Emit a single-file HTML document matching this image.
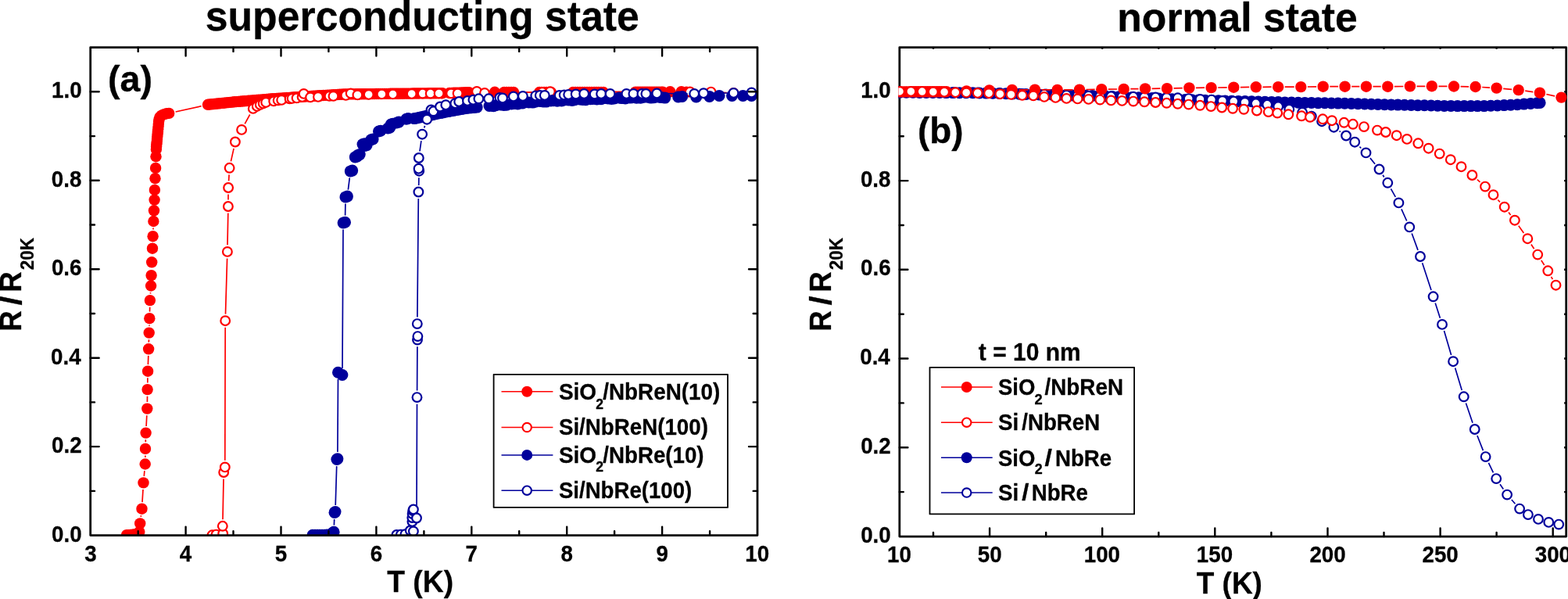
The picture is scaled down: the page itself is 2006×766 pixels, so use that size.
<!DOCTYPE html>
<html lang="en"><head><meta charset="utf-8"><title>R/R20K vs T: superconducting and normal state</title>
<style>html,body{margin:0;padding:0;background:#fff;}body{width:2006px;height:766px;overflow:hidden;}svg{display:block;}</style>
</head><body>
<svg width="2006" height="766" viewBox="0 0 2006 766" font-family="'Liberation Sans', Arial, Helvetica, sans-serif" font-weight="bold" fill="#000" stroke-linejoin="round">
<rect width="2006" height="766" fill="#fff"/>
<defs>
<clipPath id="ca"><rect x="115.7" y="60.6" width="853.3" height="624.0"/></clipPath>
<clipPath id="cb"><rect x="1149.4" y="60.5" width="855.3" height="625.5"/></clipPath>
</defs>
<g clip-path="url(#ca)">
<path d="M180.2 660.9L180.5 659.2M182.0 642.1L183.0 626.0M184.3 608.8L184.9 602.1M185.8 584.9L185.9 582.5M186.3 565.3L186.3 562.2M187.1 545.0L187.8 531.2M188.4 514.0L188.5 506.7M188.8 489.5L188.9 483.3M189.4 466.1L189.8 454.9M190.3 437.7L190.5 434.2M191.0 417.0L191.0 415.8M191.5 398.6L191.7 392.7M192.5 375.5L192.5 374.1M196.0 293.6L196.0 291.6M224.6 143.0L257.6 135.7M608.6 118.1L624.4 117.9M665.6 117.9L681.4 118.0M713.6 118.0L724.4 118.0M780.6 117.9L804.4 117.7" stroke="#ff0000" stroke-width="1.7" fill="none"/>
<g fill="#ff0000">
<circle cx="162.0" cy="684.2" r="7.2"/>
<circle cx="164.5" cy="684.1" r="7.2"/>
<circle cx="167.0" cy="684.0" r="7.2"/>
<circle cx="169.5" cy="683.8" r="7.2"/>
<circle cx="172.0" cy="683.5" r="7.2"/>
<circle cx="174.5" cy="683.0" r="7.2"/>
<circle cx="176.5" cy="682.0" r="7.2"/>
<circle cx="178.3" cy="680.0" r="7.2"/>
<circle cx="179.2" cy="669.4" r="7.2"/>
<circle cx="181.5" cy="650.7" r="7.2"/>
<circle cx="183.5" cy="617.4" r="7.2"/>
<circle cx="185.7" cy="593.5" r="7.2"/>
<circle cx="186.0" cy="573.9" r="7.2"/>
<circle cx="186.6" cy="553.6" r="7.2"/>
<circle cx="188.3" cy="522.6" r="7.2"/>
<circle cx="188.6" cy="498.1" r="7.2"/>
<circle cx="189.1" cy="474.7" r="7.2"/>
<circle cx="190.1" cy="446.3" r="7.2"/>
<circle cx="190.7" cy="425.6" r="7.2"/>
<circle cx="191.3" cy="407.2" r="7.2"/>
<circle cx="191.9" cy="384.1" r="7.2"/>
<circle cx="193.1" cy="365.5" r="7.2"/>
<circle cx="193.6" cy="352.1" r="7.2"/>
<circle cx="194.2" cy="335.3" r="7.2"/>
<circle cx="195.0" cy="317.7" r="7.2"/>
<circle cx="195.6" cy="302.2" r="7.2"/>
<circle cx="196.4" cy="283.0" r="7.2"/>
<circle cx="197.0" cy="269.3" r="7.2"/>
<circle cx="197.6" cy="255.6" r="7.2"/>
<circle cx="197.9" cy="242.9" r="7.2"/>
<circle cx="198.5" cy="228.2" r="7.2"/>
<circle cx="199.1" cy="214.9" r="7.2"/>
<circle cx="199.5" cy="200.2" r="7.2"/>
<circle cx="199.9" cy="191.0" r="7.2"/>
<circle cx="200.1" cy="187.5" r="7.2"/>
<circle cx="200.4" cy="184.3" r="7.2"/>
<circle cx="200.7" cy="181.1" r="7.2"/>
<circle cx="201.0" cy="177.9" r="7.2"/>
<circle cx="201.3" cy="174.8" r="7.2"/>
<circle cx="201.6" cy="171.6" r="7.2"/>
<circle cx="201.9" cy="168.4" r="7.2"/>
<circle cx="202.2" cy="165.2" r="7.2"/>
<circle cx="202.5" cy="162.0" r="7.2"/>
<circle cx="202.8" cy="158.8" r="7.2"/>
<circle cx="203.1" cy="155.6" r="7.2"/>
<circle cx="203.6" cy="152.5" r="7.2"/>
<circle cx="204.6" cy="149.5" r="7.2"/>
<circle cx="207.1" cy="147.4" r="7.2"/>
<circle cx="210.0" cy="146.1" r="7.2"/>
<circle cx="213.0" cy="145.3" r="7.2"/>
<circle cx="216.2" cy="144.9" r="7.2"/>
<circle cx="266.0" cy="133.8" r="7.2"/>
<circle cx="268.6" cy="133.5" r="7.2"/>
<circle cx="271.2" cy="133.3" r="7.2"/>
<circle cx="273.8" cy="133.0" r="7.2"/>
<circle cx="276.3" cy="132.7" r="7.2"/>
<circle cx="278.9" cy="132.5" r="7.2"/>
<circle cx="281.5" cy="132.2" r="7.2"/>
<circle cx="284.1" cy="131.9" r="7.2"/>
<circle cx="286.7" cy="131.7" r="7.2"/>
<circle cx="289.3" cy="131.4" r="7.2"/>
<circle cx="291.9" cy="131.1" r="7.2"/>
<circle cx="294.4" cy="130.9" r="7.2"/>
<circle cx="297.0" cy="130.6" r="7.2"/>
<circle cx="299.6" cy="130.3" r="7.2"/>
<circle cx="302.2" cy="130.1" r="7.2"/>
<circle cx="304.8" cy="129.9" r="7.2"/>
<circle cx="307.4" cy="129.7" r="7.2"/>
<circle cx="310.0" cy="129.5" r="7.2"/>
<circle cx="312.6" cy="129.3" r="7.2"/>
<circle cx="315.2" cy="129.1" r="7.2"/>
<circle cx="317.8" cy="128.8" r="7.2"/>
<circle cx="320.4" cy="128.6" r="7.2"/>
<circle cx="322.9" cy="128.4" r="7.2"/>
<circle cx="325.5" cy="128.2" r="7.2"/>
<circle cx="328.1" cy="128.0" r="7.2"/>
<circle cx="330.7" cy="127.8" r="7.2"/>
<circle cx="333.3" cy="127.6" r="7.2"/>
<circle cx="335.9" cy="127.4" r="7.2"/>
<circle cx="338.5" cy="127.1" r="7.2"/>
<circle cx="341.1" cy="126.9" r="7.2"/>
<circle cx="343.7" cy="126.7" r="7.2"/>
<circle cx="346.3" cy="126.5" r="7.2"/>
<circle cx="348.9" cy="126.3" r="7.2"/>
<circle cx="351.4" cy="126.1" r="7.2"/>
<circle cx="354.0" cy="125.9" r="7.2"/>
<circle cx="356.6" cy="125.7" r="7.2"/>
<circle cx="359.2" cy="125.6" r="7.2"/>
<circle cx="361.8" cy="125.4" r="7.2"/>
<circle cx="364.4" cy="125.2" r="7.2"/>
<circle cx="367.0" cy="125.0" r="7.2"/>
<circle cx="369.6" cy="124.9" r="7.2"/>
<circle cx="372.2" cy="124.7" r="7.2"/>
<circle cx="374.8" cy="124.5" r="7.2"/>
<circle cx="377.4" cy="124.3" r="7.2"/>
<circle cx="380.0" cy="124.2" r="7.2"/>
<circle cx="382.6" cy="124.0" r="7.2"/>
<circle cx="385.2" cy="123.8" r="7.2"/>
<circle cx="387.8" cy="123.6" r="7.2"/>
<circle cx="390.4" cy="123.5" r="7.2"/>
<circle cx="393.0" cy="123.3" r="7.2"/>
<circle cx="395.5" cy="123.1" r="7.2"/>
<circle cx="398.1" cy="122.9" r="7.2"/>
<circle cx="400.7" cy="122.8" r="7.2"/>
<circle cx="403.3" cy="122.6" r="7.2"/>
<circle cx="405.9" cy="122.5" r="7.2"/>
<circle cx="408.5" cy="122.3" r="7.2"/>
<circle cx="411.1" cy="122.2" r="7.2"/>
<circle cx="413.7" cy="122.0" r="7.2"/>
<circle cx="416.3" cy="121.9" r="7.2"/>
<circle cx="418.9" cy="121.7" r="7.2"/>
<circle cx="421.5" cy="121.6" r="7.2"/>
<circle cx="424.1" cy="121.4" r="7.2"/>
<circle cx="426.7" cy="121.3" r="7.2"/>
<circle cx="429.3" cy="121.1" r="7.2"/>
<circle cx="431.9" cy="121.0" r="7.2"/>
<circle cx="434.5" cy="120.8" r="7.2"/>
<circle cx="437.1" cy="120.7" r="7.2"/>
<circle cx="439.7" cy="120.5" r="7.2"/>
<circle cx="442.3" cy="120.5" r="7.2"/>
<circle cx="444.9" cy="120.4" r="7.2"/>
<circle cx="447.5" cy="120.4" r="7.2"/>
<circle cx="450.1" cy="120.4" r="7.2"/>
<circle cx="452.7" cy="120.4" r="7.2"/>
<circle cx="455.3" cy="120.3" r="7.2"/>
<circle cx="457.9" cy="120.3" r="7.2"/>
<circle cx="460.5" cy="120.3" r="7.2"/>
<circle cx="463.1" cy="120.2" r="7.2"/>
<circle cx="465.7" cy="120.2" r="7.2"/>
<circle cx="468.3" cy="120.2" r="7.2"/>
<circle cx="470.9" cy="120.2" r="7.2"/>
<circle cx="473.5" cy="120.1" r="7.2"/>
<circle cx="476.1" cy="120.1" r="7.2"/>
<circle cx="478.7" cy="120.1" r="7.2"/>
<circle cx="481.3" cy="120.0" r="7.2"/>
<circle cx="483.9" cy="120.0" r="7.2"/>
<circle cx="486.5" cy="120.0" r="7.2"/>
<circle cx="489.1" cy="119.9" r="7.2"/>
<circle cx="491.7" cy="119.9" r="7.2"/>
<circle cx="494.3" cy="119.9" r="7.2"/>
<circle cx="496.9" cy="119.9" r="7.2"/>
<circle cx="499.5" cy="119.8" r="7.2"/>
<circle cx="502.1" cy="119.8" r="7.2"/>
<circle cx="504.7" cy="119.8" r="7.2"/>
<circle cx="507.3" cy="119.7" r="7.2"/>
<circle cx="509.9" cy="119.7" r="7.2"/>
<circle cx="512.5" cy="119.7" r="7.2"/>
<circle cx="515.1" cy="119.7" r="7.2"/>
<circle cx="517.7" cy="119.6" r="7.2"/>
<circle cx="520.3" cy="119.6" r="7.2"/>
<circle cx="522.9" cy="119.6" r="7.2"/>
<circle cx="525.5" cy="119.6" r="7.2"/>
<circle cx="528.1" cy="119.5" r="7.2"/>
<circle cx="530.7" cy="119.5" r="7.2"/>
<circle cx="533.3" cy="119.5" r="7.2"/>
<circle cx="535.9" cy="119.5" r="7.2"/>
<circle cx="538.5" cy="119.4" r="7.2"/>
<circle cx="541.1" cy="119.4" r="7.2"/>
<circle cx="543.7" cy="119.4" r="7.2"/>
<circle cx="546.3" cy="119.4" r="7.2"/>
<circle cx="548.9" cy="119.3" r="7.2"/>
<circle cx="551.5" cy="119.3" r="7.2"/>
<circle cx="554.1" cy="119.3" r="7.2"/>
<circle cx="556.7" cy="119.3" r="7.2"/>
<circle cx="559.3" cy="119.3" r="7.2"/>
<circle cx="561.9" cy="119.2" r="7.2"/>
<circle cx="564.5" cy="119.2" r="7.2"/>
<circle cx="566.0" cy="119.2" r="7.2"/>
<circle cx="575.0" cy="119.0" r="7.2"/>
<circle cx="577.6" cy="118.9" r="7.2"/>
<circle cx="580.2" cy="118.8" r="7.2"/>
<circle cx="582.8" cy="118.8" r="7.2"/>
<circle cx="585.4" cy="118.7" r="7.2"/>
<circle cx="588.0" cy="118.6" r="7.2"/>
<circle cx="590.6" cy="118.5" r="7.2"/>
<circle cx="593.2" cy="118.4" r="7.2"/>
<circle cx="595.8" cy="118.3" r="7.2"/>
<circle cx="598.4" cy="118.3" r="7.2"/>
<circle cx="600.0" cy="118.2" r="7.2"/>
<circle cx="633.0" cy="117.8" r="7.2"/>
<circle cx="645.0" cy="117.9" r="7.2"/>
<circle cx="648.0" cy="117.9" r="7.2"/>
<circle cx="651.0" cy="117.9" r="7.2"/>
<circle cx="654.0" cy="117.9" r="7.2"/>
<circle cx="657.0" cy="117.9" r="7.2"/>
<circle cx="690.0" cy="118.0" r="7.2"/>
<circle cx="693.0" cy="118.0" r="7.2"/>
<circle cx="696.0" cy="118.0" r="7.2"/>
<circle cx="699.0" cy="118.0" r="7.2"/>
<circle cx="702.0" cy="118.0" r="7.2"/>
<circle cx="705.0" cy="118.0" r="7.2"/>
<circle cx="733.0" cy="118.0" r="7.2"/>
<circle cx="736.0" cy="118.0" r="7.2"/>
<circle cx="739.0" cy="118.0" r="7.2"/>
<circle cx="742.0" cy="118.0" r="7.2"/>
<circle cx="745.0" cy="118.0" r="7.2"/>
<circle cx="748.0" cy="118.0" r="7.2"/>
<circle cx="751.0" cy="118.0" r="7.2"/>
<circle cx="754.0" cy="118.0" r="7.2"/>
<circle cx="757.0" cy="118.0" r="7.2"/>
<circle cx="760.0" cy="118.0" r="7.2"/>
<circle cx="763.0" cy="118.0" r="7.2"/>
<circle cx="766.0" cy="118.0" r="7.2"/>
<circle cx="769.0" cy="118.0" r="7.2"/>
<circle cx="772.0" cy="118.0" r="7.2"/>
<circle cx="813.0" cy="117.6" r="7.2"/>
<circle cx="816.0" cy="117.6" r="7.2"/>
<circle cx="819.0" cy="117.6" r="7.2"/>
<circle cx="822.0" cy="117.6" r="7.2"/>
<circle cx="825.0" cy="117.6" r="7.2"/>
<circle cx="828.0" cy="117.6" r="7.2"/>
<circle cx="831.0" cy="117.6" r="7.2"/>
<circle cx="834.0" cy="117.6" r="7.2"/>
<circle cx="837.0" cy="117.6" r="7.2"/>
<circle cx="840.0" cy="117.6" r="7.2"/>
<circle cx="843.0" cy="117.6" r="7.2"/>
<circle cx="846.0" cy="117.6" r="7.2"/>
<circle cx="848.0" cy="117.6" r="7.2"/>
<circle cx="857.3" cy="117.3" r="7.2"/>
<circle cx="871.7" cy="117.3" r="7.2"/>
<circle cx="878.2" cy="117.6" r="7.2"/>
</g>
<path d="M285.0 664.2L286.0 612.6M287.8 588.8L288.2 418.8M288.5 401.6L290.6 330.5M291.0 313.3L291.8 272.6M292.0 255.4L292.0 248.6M292.6 231.4L293.1 223.4M295.4 206.4L299.1 189.9M313.2 158.3L319.7 146.5M511.2 120.2L518.1 120.1M594.2 118.5L601.4 117.8M628.6 118.8L685.2 118.0M712.4 117.2L874.1 117.5M891.3 117.5L901.0 117.6M918.2 118.0L929.9 118.5" stroke="#ff0000" stroke-width="1.7" fill="none"/>
<g fill="#fff" stroke="#ff0000" stroke-width="2.2">
<circle cx="271.5" cy="684.3" r="5.85"/>
<circle cx="276.5" cy="683.6" r="5.85"/>
<circle cx="285.2" cy="682.4" r="5.85"/>
<circle cx="284.8" cy="672.8" r="5.85"/>
<circle cx="286.2" cy="604.0" r="5.85"/>
<circle cx="287.8" cy="597.4" r="5.85"/>
<circle cx="288.2" cy="410.2" r="5.85"/>
<circle cx="290.9" cy="321.9" r="5.85"/>
<circle cx="291.9" cy="264.0" r="5.85"/>
<circle cx="292.1" cy="240.0" r="5.85"/>
<circle cx="293.6" cy="214.8" r="5.85"/>
<circle cx="300.9" cy="181.5" r="5.85"/>
<circle cx="309.1" cy="165.9" r="5.85"/>
<circle cx="323.8" cy="138.9" r="5.85"/>
<circle cx="328.8" cy="135.9" r="5.85"/>
<circle cx="332.8" cy="133.9" r="5.85"/>
<circle cx="336.7" cy="132.4" r="5.85"/>
<circle cx="340.2" cy="130.9" r="5.85"/>
<circle cx="350.2" cy="129.4" r="5.85"/>
<circle cx="355.7" cy="128.4" r="5.85"/>
<circle cx="360.2" cy="127.9" r="5.85"/>
<circle cx="370.6" cy="126.4" r="5.85"/>
<circle cx="373.6" cy="125.9" r="5.85"/>
<circle cx="379.6" cy="125.4" r="5.85"/>
<circle cx="386.6" cy="123.9" r="5.85"/>
<circle cx="388.6" cy="119.9" r="5.85"/>
<circle cx="397.1" cy="124.4" r="5.85"/>
<circle cx="407.0" cy="123.9" r="5.85"/>
<circle cx="421.5" cy="122.9" r="5.85"/>
<circle cx="426.5" cy="122.9" r="5.85"/>
<circle cx="442.4" cy="121.9" r="5.85"/>
<circle cx="448.7" cy="119.4" r="5.85"/>
<circle cx="457.4" cy="121.4" r="5.85"/>
<circle cx="471.7" cy="120.9" r="5.85"/>
<circle cx="488.4" cy="120.4" r="5.85"/>
<circle cx="502.6" cy="120.4" r="5.85"/>
<circle cx="526.7" cy="119.9" r="5.85"/>
<circle cx="540.7" cy="119.6" r="5.85"/>
<circle cx="550.7" cy="119.6" r="5.85"/>
<circle cx="561.6" cy="119.4" r="5.85"/>
<circle cx="577.1" cy="119.4" r="5.85"/>
<circle cx="585.6" cy="119.4" r="5.85"/>
<circle cx="610.0" cy="116.9" r="5.85"/>
<circle cx="620.0" cy="118.9" r="5.85"/>
<circle cx="693.8" cy="117.9" r="5.85"/>
<circle cx="703.8" cy="117.2" r="5.85"/>
<circle cx="882.7" cy="117.5" r="5.85"/>
<circle cx="909.6" cy="117.6" r="5.85"/>
<circle cx="938.5" cy="118.9" r="5.85"/>
</g>
<path d="M427.4 671.6L427.7 664.0M429.2 646.0L430.7 596.1M431.9 578.1L432.5 484.8M438.0 470.9L439.0 293.6M441.6 275.6L441.9 260.5M445.4 242.6L447.3 227.4M881.3 123.6L882.1 123.7" stroke="#00009b" stroke-width="1.7" fill="none"/>
<g fill="#00009b">
<circle cx="400.0" cy="684.3" r="7.5"/>
<circle cx="403.0" cy="684.3" r="7.5"/>
<circle cx="406.0" cy="684.2" r="7.5"/>
<circle cx="409.0" cy="684.2" r="7.5"/>
<circle cx="412.0" cy="684.2" r="7.5"/>
<circle cx="415.0" cy="684.2" r="7.5"/>
<circle cx="418.0" cy="684.1" r="7.5"/>
<circle cx="421.0" cy="684.1" r="7.5"/>
<circle cx="423.5" cy="683.4" r="7.5"/>
<circle cx="424.5" cy="682.6" r="7.5"/>
<circle cx="426.1" cy="681.0" r="7.5"/>
<circle cx="427.1" cy="680.2" r="7.5"/>
<circle cx="428.0" cy="655.4" r="7.5"/>
<circle cx="429.0" cy="654.6" r="7.5"/>
<circle cx="430.9" cy="587.5" r="7.5"/>
<circle cx="431.9" cy="586.7" r="7.5"/>
<circle cx="432.5" cy="476.2" r="7.5"/>
<circle cx="437.9" cy="479.5" r="7.5"/>
<circle cx="439.1" cy="285.0" r="7.5"/>
<circle cx="441.5" cy="284.2" r="7.5"/>
<circle cx="442.0" cy="251.9" r="7.5"/>
<circle cx="444.4" cy="251.1" r="7.5"/>
<circle cx="448.3" cy="218.9" r="7.5"/>
<circle cx="450.7" cy="218.1" r="7.5"/>
<circle cx="454.3" cy="200.9" r="7.5"/>
<circle cx="456.7" cy="200.1" r="7.5"/>
<circle cx="457.8" cy="198.4" r="7.5"/>
<circle cx="460.2" cy="197.6" r="7.5"/>
<circle cx="464.0" cy="184.6" r="7.5"/>
<circle cx="466.4" cy="183.8" r="7.5"/>
<circle cx="466.8" cy="186.4" r="7.5"/>
<circle cx="469.2" cy="185.6" r="7.5"/>
<circle cx="474.7" cy="178.7" r="7.5"/>
<circle cx="477.1" cy="177.9" r="7.5"/>
<circle cx="484.5" cy="168.0" r="7.5"/>
<circle cx="486.9" cy="167.2" r="7.5"/>
<circle cx="496.3" cy="164.0" r="7.5"/>
<circle cx="498.7" cy="163.2" r="7.5"/>
<circle cx="500.2" cy="159.1" r="7.5"/>
<circle cx="502.6" cy="158.3" r="7.5"/>
<circle cx="507.8" cy="156.9" r="7.5"/>
<circle cx="510.2" cy="156.1" r="7.5"/>
<circle cx="519.8" cy="152.3" r="7.5"/>
<circle cx="522.2" cy="151.5" r="7.5"/>
<circle cx="530.0" cy="151.6" r="7.5"/>
<circle cx="533.3" cy="150.9" r="7.5"/>
<circle cx="536.7" cy="150.2" r="7.5"/>
<circle cx="540.0" cy="149.5" r="7.5"/>
<circle cx="543.3" cy="148.8" r="7.5"/>
<circle cx="546.6" cy="148.1" r="7.5"/>
<circle cx="550.0" cy="147.4" r="7.5"/>
<circle cx="553.3" cy="146.7" r="7.5"/>
<circle cx="556.6" cy="146.0" r="7.5"/>
<circle cx="559.9" cy="145.3" r="7.5"/>
<circle cx="563.3" cy="144.6" r="7.5"/>
<circle cx="566.6" cy="144.0" r="7.5"/>
<circle cx="569.9" cy="143.3" r="7.5"/>
<circle cx="573.3" cy="142.6" r="7.5"/>
<circle cx="576.6" cy="142.0" r="7.5"/>
<circle cx="580.0" cy="141.4" r="7.5"/>
<circle cx="583.3" cy="140.8" r="7.5"/>
<circle cx="586.7" cy="140.2" r="7.5"/>
<circle cx="590.0" cy="139.6" r="7.5"/>
<circle cx="593.3" cy="139.0" r="7.5"/>
<circle cx="596.7" cy="138.4" r="7.5"/>
<circle cx="600.1" cy="138.1" r="7.5"/>
<circle cx="603.5" cy="137.7" r="7.5"/>
<circle cx="606.9" cy="137.4" r="7.5"/>
<circle cx="610.2" cy="137.1" r="7.5"/>
<circle cx="626.0" cy="135.5" r="7.5"/>
<circle cx="631.2" cy="135.7" r="7.5"/>
<circle cx="634.4" cy="134.7" r="7.5"/>
<circle cx="640.2" cy="134.0" r="7.5"/>
<circle cx="644.5" cy="134.5" r="7.5"/>
<circle cx="648.2" cy="134.2" r="7.5"/>
<circle cx="654.3" cy="132.9" r="7.5"/>
<circle cx="657.8" cy="132.5" r="7.5"/>
<circle cx="662.3" cy="132.9" r="7.5"/>
<circle cx="668.0" cy="132.1" r="7.5"/>
<circle cx="671.1" cy="130.9" r="7.5"/>
<circle cx="676.5" cy="130.9" r="7.5"/>
<circle cx="681.5" cy="131.1" r="7.5"/>
<circle cx="684.8" cy="130.3" r="7.5"/>
<circle cx="690.7" cy="129.5" r="7.5"/>
<circle cx="694.8" cy="130.0" r="7.5"/>
<circle cx="698.7" cy="130.1" r="7.5"/>
<circle cx="704.7" cy="129.0" r="7.5"/>
<circle cx="708.1" cy="128.7" r="7.5"/>
<circle cx="712.9" cy="129.3" r="7.5"/>
<circle cx="718.4" cy="128.9" r="7.5"/>
<circle cx="721.6" cy="127.9" r="7.5"/>
<circle cx="727.2" cy="128.0" r="7.5"/>
<circle cx="731.9" cy="128.5" r="7.5"/>
<circle cx="735.3" cy="127.8" r="7.5"/>
<circle cx="741.3" cy="127.0" r="7.5"/>
<circle cx="745.2" cy="127.5" r="7.5"/>
<circle cx="749.4" cy="127.7" r="7.5"/>
<circle cx="755.3" cy="126.8" r="7.5"/>
<circle cx="758.5" cy="126.4" r="7.5"/>
<circle cx="763.6" cy="127.0" r="7.5"/>
<circle cx="768.9" cy="126.8" r="7.5"/>
<circle cx="772.1" cy="125.8" r="7.5"/>
<circle cx="777.9" cy="125.9" r="7.5"/>
<circle cx="782.3" cy="126.5" r="7.5"/>
<circle cx="785.9" cy="125.9" r="7.5"/>
<circle cx="792.0" cy="125.1" r="7.5"/>
<circle cx="795.6" cy="125.6" r="7.5"/>
<circle cx="800.0" cy="126.0" r="7.5"/>
<circle cx="805.8" cy="125.1" r="7.5"/>
<circle cx="809.0" cy="124.7" r="7.5"/>
<circle cx="814.3" cy="125.3" r="7.5"/>
<circle cx="819.4" cy="125.3" r="7.5"/>
<circle cx="822.6" cy="124.4" r="7.5"/>
<circle cx="828.5" cy="124.3" r="7.5"/>
<circle cx="832.8" cy="125.1" r="7.5"/>
<circle cx="836.6" cy="124.8" r="7.5"/>
<circle cx="842.6" cy="124.1" r="7.5"/>
<circle cx="846.1" cy="124.6" r="7.5"/>
<circle cx="850.7" cy="125.1" r="7.5"/>
<circle cx="867.7" cy="123.9" r="7.5"/>
<circle cx="872.7" cy="123.4" r="7.5"/>
<circle cx="890.7" cy="123.9" r="7.5"/>
<circle cx="907.6" cy="123.4" r="7.5"/>
<circle cx="920.1" cy="122.4" r="7.5"/>
<circle cx="936.5" cy="122.4" r="7.5"/>
<circle cx="950.5" cy="122.4" r="7.5"/>
<circle cx="961.5" cy="122.4" r="7.5"/>
</g>
<path d="M533.0 653.9L533.5 516.7M533.6 499.5L533.9 443.2M533.9 405.5L535.3 254.1M535.7 236.9L535.9 227.3M537.0 193.5L538.9 180.2M542.7 163.5L543.6 160.9M705.4 121.9L707.1 121.9M789.2 119.9L792.8 119.9M848.9 119.5L879.6 119.8M908.7 119.1L929.9 119.0M947.1 118.7L952.9 118.6" stroke="#00009b" stroke-width="1.7" fill="none"/>
<g fill="#fff" stroke="#00009b" stroke-width="2.2">
<circle cx="507.4" cy="684.0" r="5.85"/>
<circle cx="512.9" cy="683.6" r="5.85"/>
<circle cx="518.4" cy="683.2" r="5.85"/>
<circle cx="524.8" cy="678.5" r="5.85"/>
<circle cx="528.9" cy="679.4" r="5.85"/>
<circle cx="527.4" cy="667.0" r="5.85"/>
<circle cx="527.3" cy="662.0" r="5.85"/>
<circle cx="527.6" cy="657.0" r="5.85"/>
<circle cx="528.2" cy="653.0" r="5.85"/>
<circle cx="528.9" cy="651.5" r="5.85"/>
<circle cx="533.0" cy="662.5" r="5.85"/>
<circle cx="533.5" cy="508.1" r="5.85"/>
<circle cx="534.0" cy="434.6" r="5.85"/>
<circle cx="534.4" cy="430.1" r="5.85"/>
<circle cx="533.8" cy="414.1" r="5.85"/>
<circle cx="535.4" cy="245.5" r="5.85"/>
<circle cx="536.2" cy="218.7" r="5.85"/>
<circle cx="535.6" cy="215.7" r="5.85"/>
<circle cx="535.8" cy="202.0" r="5.85"/>
<circle cx="540.1" cy="171.7" r="5.85"/>
<circle cx="546.2" cy="152.7" r="5.85"/>
<circle cx="551.5" cy="140.5" r="5.85"/>
<circle cx="554.5" cy="142.3" r="5.85"/>
<circle cx="563.0" cy="136.5" r="5.85"/>
<circle cx="570.3" cy="134.2" r="5.85"/>
<circle cx="582.3" cy="132.2" r="5.85"/>
<circle cx="587.2" cy="130.0" r="5.85"/>
<circle cx="598.0" cy="128.9" r="5.85"/>
<circle cx="605.4" cy="127.7" r="5.85"/>
<circle cx="612.4" cy="126.3" r="5.85"/>
<circle cx="625.2" cy="126.3" r="5.85"/>
<circle cx="639.4" cy="124.9" r="5.85"/>
<circle cx="643.0" cy="125.4" r="5.85"/>
<circle cx="656.9" cy="123.4" r="5.85"/>
<circle cx="668.9" cy="122.9" r="5.85"/>
<circle cx="685.3" cy="122.4" r="5.85"/>
<circle cx="690.8" cy="121.9" r="5.85"/>
<circle cx="696.8" cy="121.9" r="5.85"/>
<circle cx="715.7" cy="121.9" r="5.85"/>
<circle cx="721.7" cy="121.4" r="5.85"/>
<circle cx="727.2" cy="120.9" r="5.85"/>
<circle cx="736.7" cy="120.4" r="5.85"/>
<circle cx="747.2" cy="119.9" r="5.85"/>
<circle cx="760.6" cy="120.4" r="5.85"/>
<circle cx="769.1" cy="119.9" r="5.85"/>
<circle cx="780.6" cy="119.9" r="5.85"/>
<circle cx="801.4" cy="119.9" r="5.85"/>
<circle cx="810.4" cy="119.9" r="5.85"/>
<circle cx="821.4" cy="119.9" r="5.85"/>
<circle cx="826.4" cy="119.9" r="5.85"/>
<circle cx="840.3" cy="119.4" r="5.85"/>
<circle cx="888.2" cy="119.9" r="5.85"/>
<circle cx="900.1" cy="119.2" r="5.85"/>
<circle cx="938.5" cy="118.9" r="5.85"/>
<circle cx="961.5" cy="118.4" r="5.85"/>
</g>
</g>
<rect x="115.7" y="60.6" width="853.3" height="624.0" fill="none" stroke="#000" stroke-width="2.75"/>
<path d="M176.7 684.6v-5.3M176.7 60.6v5.3M237.6 684.6v-11.0M237.6 60.6v11.0M298.5 684.6v-5.3M298.5 60.6v5.3M359.5 684.6v-11.0M359.5 60.6v11.0M420.4 684.6v-5.3M420.4 60.6v5.3M481.4 684.6v-11.0M481.4 60.6v11.0M542.4 684.6v-5.3M542.4 60.6v5.3M603.3 684.6v-11.0M603.3 60.6v11.0M664.2 684.6v-5.3M664.2 60.6v5.3M725.2 684.6v-11.0M725.2 60.6v11.0M786.1 684.6v-5.3M786.1 60.6v5.3M847.1 684.6v-11.0M847.1 60.6v11.0M908.1 684.6v-5.3M908.1 60.6v5.3M115.7 627.9h5.3M969.0 627.9h-5.3M115.7 571.1h11.0M969.0 571.1h-11.0M115.7 514.4h5.3M969.0 514.4h-5.3M115.7 457.7h11.0M969.0 457.7h-11.0M115.7 401.0h5.3M969.0 401.0h-5.3M115.7 344.2h11.0M969.0 344.2h-11.0M115.7 287.5h5.3M969.0 287.5h-5.3M115.7 230.8h11.0M969.0 230.8h-11.0M115.7 174.1h5.3M969.0 174.1h-5.3M115.7 117.3h11.0M969.0 117.3h-11.0" stroke="#000" stroke-width="2.4" fill="none" stroke-linecap="round"/>
<rect x="1150.8" y="60.5" width="852.9" height="625.5" fill="none" stroke="#000" stroke-width="2.75"/>
<path d="M1194.0 686.0v-5.0M1266.1 686.0v-10.6M1338.2 686.0v-5.0M1410.2 686.0v-10.6M1482.3 686.0v-5.0M1554.3 686.0v-10.6M1626.4 686.0v-5.0M1698.5 686.0v-10.6M1770.5 686.0v-5.0M1842.6 686.0v-10.6M1914.6 686.0v-5.0M1986.7 686.0v-10.6M1150.8 629.1h5.0M1150.8 572.3h10.6M1150.8 515.4h5.0M1150.8 458.5h10.6M1150.8 401.7h5.0M1150.8 344.8h10.6M1150.8 288.0h5.0M1150.8 231.1h10.6M1150.8 174.2h5.0M1150.8 117.4h10.6" stroke="#000" stroke-width="2.4" fill="none" stroke-linecap="round"/>
<path d="M1194.0 60.5v2.2M1266.1 60.5v2.2M1338.2 60.5v2.2M1410.2 60.5v2.2M1482.3 60.5v2.2M1554.3 60.5v2.2M1626.4 60.5v2.2M1698.5 60.5v2.2M1770.5 60.5v2.2M1842.6 60.5v2.2M1914.6 60.5v2.2M1986.7 60.5v2.2M2003.7 629.1h-2.6M2003.7 572.3h-2.6M2003.7 515.4h-2.6M2003.7 458.5h-2.6M2003.7 401.7h-2.6M2003.7 344.8h-2.6M2003.7 288.0h-2.6M2003.7 231.1h-2.6M2003.7 174.2h-2.6M2003.7 117.4h-2.6" stroke="#000" stroke-width="2.4" fill="none"/>
<g clip-path="url(#cb)">
<g fill="#00009b">
<circle cx="1151.0" cy="118.2" r="7.5"/>
<circle cx="1159.5" cy="118.3" r="7.5"/>
<circle cx="1168.0" cy="118.3" r="7.5"/>
<circle cx="1176.5" cy="118.4" r="7.5"/>
<circle cx="1185.0" cy="118.4" r="7.5"/>
<circle cx="1193.5" cy="118.5" r="7.5"/>
<circle cx="1202.0" cy="118.5" r="7.5"/>
<circle cx="1210.5" cy="118.6" r="7.5"/>
<circle cx="1219.0" cy="118.6" r="7.5"/>
<circle cx="1227.5" cy="118.7" r="7.5"/>
<circle cx="1236.0" cy="118.7" r="7.5"/>
<circle cx="1244.5" cy="118.8" r="7.5"/>
<circle cx="1253.0" cy="118.9" r="7.5"/>
<circle cx="1261.5" cy="119.1" r="7.5"/>
<circle cx="1270.0" cy="119.3" r="7.5"/>
<circle cx="1278.5" cy="119.5" r="7.5"/>
<circle cx="1287.0" cy="119.8" r="7.5"/>
<circle cx="1295.5" cy="120.0" r="7.5"/>
<circle cx="1304.0" cy="120.2" r="7.5"/>
<circle cx="1312.5" cy="120.4" r="7.5"/>
<circle cx="1321.0" cy="120.7" r="7.5"/>
<circle cx="1329.5" cy="120.9" r="7.5"/>
<circle cx="1338.0" cy="121.1" r="7.5"/>
<circle cx="1346.5" cy="121.3" r="7.5"/>
<circle cx="1355.0" cy="121.5" r="7.5"/>
<circle cx="1363.5" cy="121.7" r="7.5"/>
<circle cx="1372.0" cy="121.9" r="7.5"/>
<circle cx="1380.5" cy="122.1" r="7.5"/>
<circle cx="1389.0" cy="122.2" r="7.5"/>
<circle cx="1397.5" cy="122.4" r="7.5"/>
<circle cx="1405.9" cy="122.7" r="7.5"/>
<circle cx="1414.4" cy="123.1" r="7.5"/>
<circle cx="1422.9" cy="123.4" r="7.5"/>
<circle cx="1431.4" cy="123.8" r="7.5"/>
<circle cx="1439.9" cy="124.1" r="7.5"/>
<circle cx="1448.4" cy="124.4" r="7.5"/>
<circle cx="1456.9" cy="124.8" r="7.5"/>
<circle cx="1465.4" cy="125.2" r="7.5"/>
<circle cx="1473.9" cy="125.6" r="7.5"/>
<circle cx="1482.4" cy="126.0" r="7.5"/>
<circle cx="1490.9" cy="126.4" r="7.5"/>
<circle cx="1499.4" cy="126.8" r="7.5"/>
<circle cx="1507.9" cy="127.1" r="7.5"/>
<circle cx="1516.3" cy="127.5" r="7.5"/>
<circle cx="1524.8" cy="127.8" r="7.5"/>
<circle cx="1533.3" cy="128.1" r="7.5"/>
<circle cx="1541.8" cy="128.3" r="7.5"/>
<circle cx="1550.3" cy="128.5" r="7.5"/>
<circle cx="1558.8" cy="128.7" r="7.5"/>
<circle cx="1567.3" cy="128.9" r="7.5"/>
<circle cx="1575.8" cy="129.2" r="7.5"/>
<circle cx="1584.3" cy="129.4" r="7.5"/>
<circle cx="1592.8" cy="129.6" r="7.5"/>
<circle cx="1601.3" cy="129.8" r="7.5"/>
<circle cx="1609.8" cy="130.0" r="7.5"/>
<circle cx="1618.3" cy="130.2" r="7.5"/>
<circle cx="1626.8" cy="130.4" r="7.5"/>
<circle cx="1635.3" cy="130.6" r="7.5"/>
<circle cx="1643.8" cy="130.9" r="7.5"/>
<circle cx="1652.3" cy="131.0" r="7.5"/>
<circle cx="1660.8" cy="131.2" r="7.5"/>
<circle cx="1669.3" cy="131.4" r="7.5"/>
<circle cx="1677.8" cy="131.5" r="7.5"/>
<circle cx="1686.3" cy="131.7" r="7.5"/>
<circle cx="1694.8" cy="131.8" r="7.5"/>
<circle cx="1703.3" cy="132.0" r="7.5"/>
<circle cx="1711.8" cy="132.1" r="7.5"/>
<circle cx="1720.3" cy="132.3" r="7.5"/>
<circle cx="1728.8" cy="132.5" r="7.5"/>
<circle cx="1737.3" cy="132.8" r="7.5"/>
<circle cx="1745.8" cy="133.0" r="7.5"/>
<circle cx="1754.3" cy="133.2" r="7.5"/>
<circle cx="1762.8" cy="133.4" r="7.5"/>
<circle cx="1771.3" cy="133.7" r="7.5"/>
<circle cx="1779.8" cy="133.9" r="7.5"/>
<circle cx="1788.3" cy="134.1" r="7.5"/>
<circle cx="1796.8" cy="134.3" r="7.5"/>
<circle cx="1805.3" cy="134.5" r="7.5"/>
<circle cx="1813.8" cy="134.7" r="7.5"/>
<circle cx="1822.3" cy="134.8" r="7.5"/>
<circle cx="1830.8" cy="135.0" r="7.5"/>
<circle cx="1839.2" cy="135.2" r="7.5"/>
<circle cx="1847.7" cy="135.4" r="7.5"/>
<circle cx="1856.2" cy="135.5" r="7.5"/>
<circle cx="1864.7" cy="135.6" r="7.5"/>
<circle cx="1873.2" cy="135.6" r="7.5"/>
<circle cx="1881.7" cy="135.6" r="7.5"/>
<circle cx="1890.2" cy="135.6" r="7.5"/>
<circle cx="1898.7" cy="135.6" r="7.5"/>
<circle cx="1907.2" cy="135.3" r="7.5"/>
<circle cx="1915.7" cy="135.0" r="7.5"/>
<circle cx="1924.2" cy="134.6" r="7.5"/>
<circle cx="1932.7" cy="134.2" r="7.5"/>
<circle cx="1941.2" cy="133.7" r="7.5"/>
<circle cx="1949.7" cy="133.1" r="7.5"/>
<circle cx="1958.2" cy="132.4" r="7.5"/>
<circle cx="1966.6" cy="131.7" r="7.5"/>
<circle cx="1970.1" cy="131.4" r="7.5"/>
</g>
<path d="M1713.5 167.6L1715.0 168.6M1739.4 187.6L1741.3 189.5M1752.9 202.1L1759.1 209.8M1769.1 223.8L1770.7 226.5M1779.4 241.3L1785.3 251.9M1792.9 267.3L1799.7 282.5M1806.2 298.5L1814.0 319.9M1819.6 336.2L1831.0 371.1M1836.2 387.5L1842.4 406.7M1847.5 423.1L1856.6 454.0M1861.6 470.4L1870.2 499.1M1875.4 515.5L1884.0 540.8M1889.9 557.0L1897.4 576.1M1904.4 591.8L1910.4 604.4M1919.0 619.2L1923.3 625.5M1933.8 639.0L1938.4 644.2" stroke="#00009b" stroke-width="1.7" fill="none"/>
<g fill="#fff" stroke="#00009b" stroke-width="2.2">
<circle cx="1151.0" cy="117.3" r="5.85"/>
<circle cx="1165.4" cy="117.5" r="5.85"/>
<circle cx="1179.7" cy="117.6" r="5.85"/>
<circle cx="1193.8" cy="117.8" r="5.85"/>
<circle cx="1208.1" cy="118.0" r="5.85"/>
<circle cx="1222.3" cy="118.2" r="5.85"/>
<circle cx="1236.2" cy="118.3" r="5.85"/>
<circle cx="1250.7" cy="118.5" r="5.85"/>
<circle cx="1265.1" cy="118.9" r="5.85"/>
<circle cx="1279.4" cy="119.2" r="5.85"/>
<circle cx="1293.5" cy="119.6" r="5.85"/>
<circle cx="1307.8" cy="119.9" r="5.85"/>
<circle cx="1322.0" cy="120.3" r="5.85"/>
<circle cx="1335.9" cy="120.6" r="5.85"/>
<circle cx="1350.4" cy="121.1" r="5.85"/>
<circle cx="1364.4" cy="121.7" r="5.85"/>
<circle cx="1378.6" cy="122.2" r="5.85"/>
<circle cx="1392.6" cy="122.7" r="5.85"/>
<circle cx="1407.3" cy="123.0" r="5.85"/>
<circle cx="1421.4" cy="123.3" r="5.85"/>
<circle cx="1435.5" cy="123.5" r="5.85"/>
<circle cx="1449.9" cy="123.8" r="5.85"/>
<circle cx="1464.1" cy="124.2" r="5.85"/>
<circle cx="1478.3" cy="124.5" r="5.85"/>
<circle cx="1492.5" cy="124.9" r="5.85"/>
<circle cx="1506.7" cy="125.3" r="5.85"/>
<circle cx="1520.7" cy="126.1" r="5.85"/>
<circle cx="1535.5" cy="126.9" r="5.85"/>
<circle cx="1549.9" cy="127.6" r="5.85"/>
<circle cx="1563.9" cy="128.9" r="5.85"/>
<circle cx="1578.3" cy="129.6" r="5.85"/>
<circle cx="1592.6" cy="130.9" r="5.85"/>
<circle cx="1606.7" cy="132.3" r="5.85"/>
<circle cx="1621.2" cy="133.8" r="5.85"/>
<circle cx="1635.2" cy="136.3" r="5.85"/>
<circle cx="1649.3" cy="139.8" r="5.85"/>
<circle cx="1666.1" cy="143.8" r="5.85"/>
<circle cx="1677.8" cy="148.6" r="5.85"/>
<circle cx="1691.1" cy="155.2" r="5.85"/>
<circle cx="1706.4" cy="162.7" r="5.85"/>
<circle cx="1722.1" cy="173.5" r="5.85"/>
<circle cx="1733.2" cy="181.7" r="5.85"/>
<circle cx="1747.5" cy="195.4" r="5.85"/>
<circle cx="1764.5" cy="216.5" r="5.85"/>
<circle cx="1775.3" cy="233.8" r="5.85"/>
<circle cx="1789.4" cy="259.4" r="5.85"/>
<circle cx="1803.2" cy="290.4" r="5.85"/>
<circle cx="1817.0" cy="328.0" r="5.85"/>
<circle cx="1833.6" cy="379.3" r="5.85"/>
<circle cx="1845.0" cy="414.9" r="5.85"/>
<circle cx="1859.1" cy="462.2" r="5.85"/>
<circle cx="1872.7" cy="507.3" r="5.85"/>
<circle cx="1886.7" cy="549.0" r="5.85"/>
<circle cx="1900.6" cy="584.1" r="5.85"/>
<circle cx="1914.2" cy="612.1" r="5.85"/>
<circle cx="1928.1" cy="632.6" r="5.85"/>
<circle cx="1944.1" cy="650.6" r="5.85"/>
<circle cx="1954.9" cy="658.1" r="5.85"/>
<circle cx="1968.0" cy="663.9" r="5.85"/>
<circle cx="1981.3" cy="667.9" r="5.85"/>
<circle cx="1994.2" cy="670.6" r="5.85"/>
</g>
<path d="M1219.4 116.9L1227.9 116.7M1245.1 116.1L1257.0 115.7M1274.2 115.3L1286.2 115.0M1303.4 114.8L1315.4 114.8M1332.6 114.8L1344.1 114.8M1361.3 114.8L1372.4 114.8M1389.6 114.5L1400.7 114.4M1417.9 114.1L1429.1 114.0M1446.3 113.7L1456.5 113.6M1473.7 113.3L1484.4 113.2M1501.6 112.9L1512.8 112.6M1530.0 112.3L1541.0 112.2M1558.2 112.0L1569.7 111.8M1586.9 111.6L1598.2 111.4M1615.4 111.3L1626.6 111.2M1643.8 111.2L1655.7 111.1M1672.9 111.0L1684.1 110.8M1701.3 110.7L1712.0 110.7M1729.2 110.7L1739.3 110.7M1756.5 110.7L1766.7 110.7M1783.9 110.6L1795.3 110.5M1812.5 110.3L1823.2 110.3M1840.4 110.3L1851.4 110.4M1868.6 110.7L1879.0 110.8M1896.2 111.5L1906.0 112.1M1923.2 113.4L1934.1 114.3M1951.2 116.2L1961.4 117.6M1978.3 120.5L1989.1 122.8" stroke="#ff0000" stroke-width="1.7" fill="none"/>
<g fill="#ff0000">
<circle cx="1150.8" cy="117.4" r="7.2"/>
<circle cx="1153.8" cy="117.4" r="7.2"/>
<circle cx="1156.8" cy="117.4" r="7.2"/>
<circle cx="1159.8" cy="117.4" r="7.2"/>
<circle cx="1162.8" cy="117.4" r="7.2"/>
<circle cx="1165.8" cy="117.4" r="7.2"/>
<circle cx="1168.8" cy="117.3" r="7.2"/>
<circle cx="1171.8" cy="117.3" r="7.2"/>
<circle cx="1174.8" cy="117.3" r="7.2"/>
<circle cx="1177.8" cy="117.3" r="7.2"/>
<circle cx="1180.8" cy="117.3" r="7.2"/>
<circle cx="1183.8" cy="117.3" r="7.2"/>
<circle cx="1186.8" cy="117.3" r="7.2"/>
<circle cx="1189.8" cy="117.3" r="7.2"/>
<circle cx="1192.8" cy="117.3" r="7.2"/>
<circle cx="1195.8" cy="117.3" r="7.2"/>
<circle cx="1198.8" cy="117.2" r="7.2"/>
<circle cx="1201.8" cy="117.2" r="7.2"/>
<circle cx="1204.8" cy="117.2" r="7.2"/>
<circle cx="1207.8" cy="117.2" r="7.2"/>
<circle cx="1210.8" cy="117.2" r="7.2"/>
<circle cx="1236.5" cy="116.4" r="7.2"/>
<circle cx="1265.6" cy="115.4" r="7.2"/>
<circle cx="1294.8" cy="114.9" r="7.2"/>
<circle cx="1324.0" cy="114.7" r="7.2"/>
<circle cx="1352.7" cy="114.9" r="7.2"/>
<circle cx="1381.0" cy="114.7" r="7.2"/>
<circle cx="1409.3" cy="114.2" r="7.2"/>
<circle cx="1437.7" cy="113.9" r="7.2"/>
<circle cx="1465.1" cy="113.4" r="7.2"/>
<circle cx="1493.0" cy="113.1" r="7.2"/>
<circle cx="1521.4" cy="112.4" r="7.2"/>
<circle cx="1549.6" cy="112.1" r="7.2"/>
<circle cx="1578.3" cy="111.7" r="7.2"/>
<circle cx="1606.8" cy="111.3" r="7.2"/>
<circle cx="1635.2" cy="111.2" r="7.2"/>
<circle cx="1664.3" cy="111.1" r="7.2"/>
<circle cx="1692.7" cy="110.7" r="7.2"/>
<circle cx="1720.6" cy="110.7" r="7.2"/>
<circle cx="1747.9" cy="110.7" r="7.2"/>
<circle cx="1775.3" cy="110.7" r="7.2"/>
<circle cx="1803.9" cy="110.4" r="7.2"/>
<circle cx="1831.8" cy="110.2" r="7.2"/>
<circle cx="1860.0" cy="110.5" r="7.2"/>
<circle cx="1887.6" cy="111.0" r="7.2"/>
<circle cx="1914.6" cy="112.6" r="7.2"/>
<circle cx="1942.7" cy="115.1" r="7.2"/>
<circle cx="1969.9" cy="118.7" r="7.2"/>
<circle cx="1997.5" cy="124.6" r="7.2"/>
</g>
<path d="M1889.9 229.7L1893.5 232.9M1916.3 255.5L1918.9 258.4M1930.0 271.5L1932.6 274.9M1942.8 288.8L1949.4 298.1M1958.9 312.5L1962.6 318.3M1971.8 332.9L1975.7 339.0M1984.5 353.8L1986.3 357.2" stroke="#ff0000" stroke-width="1.7" fill="none"/>
<g fill="#fff" stroke="#ff0000" stroke-width="2.2">
<circle cx="1151.0" cy="116.9" r="5.85"/>
<circle cx="1165.4" cy="116.9" r="5.85"/>
<circle cx="1179.7" cy="117.1" r="5.85"/>
<circle cx="1193.8" cy="117.4" r="5.85"/>
<circle cx="1208.1" cy="117.7" r="5.85"/>
<circle cx="1222.3" cy="118.2" r="5.85"/>
<circle cx="1236.2" cy="118.4" r="5.85"/>
<circle cx="1250.7" cy="118.9" r="5.85"/>
<circle cx="1265.1" cy="119.2" r="5.85"/>
<circle cx="1279.4" cy="120.2" r="5.85"/>
<circle cx="1293.5" cy="120.9" r="5.85"/>
<circle cx="1307.8" cy="121.9" r="5.85"/>
<circle cx="1322.0" cy="122.4" r="5.85"/>
<circle cx="1335.9" cy="123.9" r="5.85"/>
<circle cx="1350.4" cy="124.9" r="5.85"/>
<circle cx="1364.4" cy="125.9" r="5.85"/>
<circle cx="1378.6" cy="126.4" r="5.85"/>
<circle cx="1392.6" cy="126.9" r="5.85"/>
<circle cx="1407.3" cy="127.6" r="5.85"/>
<circle cx="1421.4" cy="128.4" r="5.85"/>
<circle cx="1435.5" cy="128.9" r="5.85"/>
<circle cx="1449.9" cy="129.6" r="5.85"/>
<circle cx="1464.1" cy="130.3" r="5.85"/>
<circle cx="1478.3" cy="131.0" r="5.85"/>
<circle cx="1492.5" cy="131.8" r="5.85"/>
<circle cx="1506.7" cy="132.8" r="5.85"/>
<circle cx="1520.7" cy="133.6" r="5.85"/>
<circle cx="1535.3" cy="134.8" r="5.85"/>
<circle cx="1549.2" cy="136.1" r="5.85"/>
<circle cx="1563.2" cy="137.5" r="5.85"/>
<circle cx="1577.1" cy="138.8" r="5.85"/>
<circle cx="1591.3" cy="139.8" r="5.85"/>
<circle cx="1607.9" cy="141.5" r="5.85"/>
<circle cx="1622.7" cy="143.1" r="5.85"/>
<circle cx="1634.2" cy="144.6" r="5.85"/>
<circle cx="1648.3" cy="146.3" r="5.85"/>
<circle cx="1665.1" cy="148.3" r="5.85"/>
<circle cx="1676.0" cy="149.8" r="5.85"/>
<circle cx="1692.2" cy="152.3" r="5.85"/>
<circle cx="1704.0" cy="154.2" r="5.85"/>
<circle cx="1719.5" cy="156.8" r="5.85"/>
<circle cx="1730.9" cy="158.8" r="5.85"/>
<circle cx="1745.0" cy="162.1" r="5.85"/>
<circle cx="1762.0" cy="166.6" r="5.85"/>
<circle cx="1772.8" cy="169.0" r="5.85"/>
<circle cx="1786.7" cy="173.2" r="5.85"/>
<circle cx="1800.0" cy="177.9" r="5.85"/>
<circle cx="1814.3" cy="183.3" r="5.85"/>
<circle cx="1827.6" cy="189.7" r="5.85"/>
<circle cx="1841.7" cy="196.6" r="5.85"/>
<circle cx="1855.8" cy="204.2" r="5.85"/>
<circle cx="1869.5" cy="213.2" r="5.85"/>
<circle cx="1883.4" cy="224.0" r="5.85"/>
<circle cx="1900.0" cy="238.6" r="5.85"/>
<circle cx="1910.5" cy="249.2" r="5.85"/>
<circle cx="1924.7" cy="264.7" r="5.85"/>
<circle cx="1937.9" cy="281.7" r="5.85"/>
<circle cx="1954.3" cy="305.2" r="5.85"/>
<circle cx="1967.2" cy="325.6" r="5.85"/>
<circle cx="1980.3" cy="346.3" r="5.85"/>
<circle cx="1990.5" cy="364.7" r="5.85"/>
</g>
</g>
<text transform="translate(262.69,39.20) scale(0.9679,1)" font-size="53.5" stroke="#000" stroke-width="0.3">superconducting state</text>
<text transform="translate(1429.28,40.40) scale(1.0137,1)" font-size="51" stroke="#000" stroke-width="0.3">normal state</text>
<text transform="translate(66.04,692.60) scale(0.9250,1)" font-size="30" stroke="#000" stroke-width="0.3">0.0</text>
<text transform="translate(1101.14,693.60) scale(0.9250,1)" font-size="30" stroke="#000" stroke-width="0.3">0.0</text>
<text transform="translate(66.04,579.15) scale(0.9250,1)" font-size="30" stroke="#000" stroke-width="0.3">0.2</text>
<text transform="translate(1101.14,579.87) scale(0.9250,1)" font-size="30" stroke="#000" stroke-width="0.3">0.2</text>
<text transform="translate(65.11,465.69) scale(0.9250,1)" font-size="30" stroke="#000" stroke-width="0.3">0.4</text>
<text transform="translate(1100.21,466.15) scale(0.9250,1)" font-size="30" stroke="#000" stroke-width="0.3">0.4</text>
<text transform="translate(65.92,352.24) scale(0.9250,1)" font-size="30" stroke="#000" stroke-width="0.3">0.6</text>
<text transform="translate(1101.02,352.42) scale(0.9250,1)" font-size="30" stroke="#000" stroke-width="0.3">0.6</text>
<text transform="translate(65.81,238.78) scale(0.9250,1)" font-size="30" stroke="#000" stroke-width="0.3">0.8</text>
<text transform="translate(1100.91,238.69) scale(0.9250,1)" font-size="30" stroke="#000" stroke-width="0.3">0.8</text>
<text transform="translate(66.04,125.33) scale(0.9250,1)" font-size="30" stroke="#000" stroke-width="0.3">1.0</text>
<text transform="translate(1101.14,124.96) scale(0.9250,1)" font-size="30" stroke="#000" stroke-width="0.3">1.0</text>
<text transform="translate(108.13,718.20) scale(0.9250,1)" font-size="30" stroke="#000" stroke-width="0.3">3</text>
<text transform="translate(229.74,718.20) scale(0.9250,1)" font-size="30" stroke="#000" stroke-width="0.3">4</text>
<text transform="translate(351.70,718.20) scale(0.9250,1)" font-size="30" stroke="#000" stroke-width="0.3">5</text>
<text transform="translate(473.65,718.20) scale(0.9250,1)" font-size="30" stroke="#000" stroke-width="0.3">6</text>
<text transform="translate(595.61,718.20) scale(0.9250,1)" font-size="30" stroke="#000" stroke-width="0.3">7</text>
<text transform="translate(717.45,718.20) scale(0.9250,1)" font-size="30" stroke="#000" stroke-width="0.3">8</text>
<text transform="translate(839.41,718.20) scale(0.9250,1)" font-size="30" stroke="#000" stroke-width="0.3">9</text>
<text transform="translate(953.27,718.20) scale(0.9250,1)" font-size="30" stroke="#000" stroke-width="0.3">10</text>
<text transform="translate(1135.08,718.80) scale(0.9250,1)" font-size="30" stroke="#000" stroke-width="0.3">10</text>
<text transform="translate(1250.78,718.80) scale(0.9250,1)" font-size="30" stroke="#000" stroke-width="0.3">50</text>
<text transform="translate(1386.74,718.80) scale(0.9250,1)" font-size="30" stroke="#000" stroke-width="0.3">100</text>
<text transform="translate(1530.86,718.80) scale(0.9250,1)" font-size="30" stroke="#000" stroke-width="0.3">150</text>
<text transform="translate(1675.39,718.80) scale(0.9250,1)" font-size="30" stroke="#000" stroke-width="0.3">200</text>
<text transform="translate(1819.51,718.80) scale(0.9250,1)" font-size="30" stroke="#000" stroke-width="0.3">250</text>
<text transform="translate(1963.74,718.80) scale(0.9250,1)" font-size="30" stroke="#000" stroke-width="0.3">300</text>
<text transform="translate(495.23,757.00) scale(0.9816,1)" font-size="38" stroke="#000" stroke-width="0.3">T (K)</text>
<text transform="translate(1530.74,758.50) scale(0.9733,1)" font-size="38" stroke="#000" stroke-width="0.3">T (K)</text>
<text transform="translate(27.40,423.72) rotate(-90) scale(0.9699,1)" font-size="38" stroke="#000" stroke-width="0.3">R</text>
<text transform="translate(27.40,390.62) rotate(-90) scale(1.1282,1)" font-size="38" stroke="#000" stroke-width="0.3">/</text>
<text transform="translate(27.40,373.81) rotate(-90) scale(0.9658,1)" font-size="38" stroke="#000" stroke-width="0.3">R</text>
<text transform="translate(42.60,345.32) rotate(-90) scale(0.9376,1)" font-size="24" stroke="#000" stroke-width="0.3">20K</text>
<text transform="translate(1062.50,423.72) rotate(-90) scale(0.9699,1)" font-size="38" stroke="#000" stroke-width="0.3">R</text>
<text transform="translate(1062.50,390.62) rotate(-90) scale(1.1282,1)" font-size="38" stroke="#000" stroke-width="0.3">/</text>
<text transform="translate(1062.50,373.81) rotate(-90) scale(0.9658,1)" font-size="38" stroke="#000" stroke-width="0.3">R</text>
<text transform="translate(1077.70,345.32) rotate(-90) scale(0.9376,1)" font-size="24" stroke="#000" stroke-width="0.3">20K</text>
<text transform="translate(138.02,116.60) scale(1.0131,1)" font-size="46" stroke="#000" stroke-width="0.3">(a)</text>
<text transform="translate(1174.06,183.30) scale(0.9977,1)" font-size="46" stroke="#000" stroke-width="0.3">(b)</text>
<rect x="631.6" y="478.8" width="299.4" height="170.1" fill="#fff" stroke="#000" stroke-width="1.8"/>
<path d="M641.5 500.8H707.4" stroke="#ff0000" stroke-width="1.5" fill="none"/>
<circle cx="674.2" cy="500.8" r="7.0" fill="#ff0000"/>
<path d="M641.5 546.6H707.4" stroke="#ff0000" stroke-width="1.5" fill="none"/>
<circle cx="674.2" cy="546.6" r="5.7" fill="#fff" stroke="#ff0000" stroke-width="2.1"/>
<path d="M641.5 581.9H707.4" stroke="#00009b" stroke-width="1.5" fill="none"/>
<circle cx="674.2" cy="581.9" r="7.0" fill="#00009b"/>
<path d="M641.5 627.2H707.4" stroke="#00009b" stroke-width="1.5" fill="none"/>
<circle cx="674.2" cy="627.2" r="5.7" fill="#fff" stroke="#00009b" stroke-width="2.1"/>
<text transform="translate(714.88,511.00) scale(0.9330,1)" font-size="30" stroke="#000" stroke-width="0.3">SiO</text>
<text transform="translate(762.17,523.15) scale(1.0030,1)" font-size="17.5" stroke="#000" stroke-width="0.3">2</text>
<text transform="translate(771.27,511.00) scale(0.9275,1)" font-size="30" stroke="#000" stroke-width="0.3">/NbReN(10)</text>
<text transform="translate(714.89,556.40) scale(0.9248,1)" font-size="30" stroke="#000" stroke-width="0.3">Si/NbReN(100)</text>
<text transform="translate(714.88,591.80) scale(0.9330,1)" font-size="30" stroke="#000" stroke-width="0.3">SiO</text>
<text transform="translate(762.17,603.15) scale(1.0030,1)" font-size="17.5" stroke="#000" stroke-width="0.3">2</text>
<text transform="translate(771.27,591.80) scale(0.9237,1)" font-size="30" stroke="#000" stroke-width="0.3">/NbRe(10)</text>
<text transform="translate(714.89,637.20) scale(0.9209,1)" font-size="30" stroke="#000" stroke-width="0.3">Si/NbRe(100)</text>
<rect x="1189.5" y="469.8" width="261.6" height="187.6" fill="#fff" stroke="#000" stroke-width="1.8"/>
<path d="M1204 495.0H1269.7" stroke="#ff0000" stroke-width="1.5" fill="none"/>
<circle cx="1236.7" cy="495.0" r="7.0" fill="#ff0000"/>
<path d="M1204 540.2H1269.7" stroke="#ff0000" stroke-width="1.5" fill="none"/>
<circle cx="1236.7" cy="540.2" r="5.7" fill="#fff" stroke="#ff0000" stroke-width="2.1"/>
<path d="M1204 585.3H1269.7" stroke="#00009b" stroke-width="1.5" fill="none"/>
<circle cx="1236.7" cy="585.3" r="7.0" fill="#00009b"/>
<path d="M1204 630.1H1269.7" stroke="#00009b" stroke-width="1.5" fill="none"/>
<circle cx="1236.7" cy="630.1" r="5.7" fill="#fff" stroke="#00009b" stroke-width="2.1"/>
<text transform="translate(1276.90,504.80) scale(0.9169,1)" font-size="30" stroke="#000" stroke-width="0.3">SiO</text>
<text transform="translate(1323.54,517.05) scale(1.0507,1)" font-size="17.5" stroke="#000" stroke-width="0.3">2</text>
<text transform="translate(1336.47,504.80) scale(0.9283,1)" font-size="30" stroke="#000" stroke-width="0.3">/NbReN</text>
<text transform="translate(1276.89,550.10) scale(0.9300,1)" font-size="30" stroke="#000" stroke-width="0.3">Si</text>
<text transform="translate(1307.27,550.10) scale(0.9226,1)" font-size="30" stroke="#000" stroke-width="0.3">/NbReN</text>
<text transform="translate(1276.90,595.50) scale(0.9169,1)" font-size="30" stroke="#000" stroke-width="0.3">SiO</text>
<text transform="translate(1323.76,606.35) scale(1.0269,1)" font-size="17.5" stroke="#000" stroke-width="0.3">2</text>
<text transform="translate(1336.42,595.50) scale(1.1355,1)" font-size="30" stroke="#000" stroke-width="0.3">/</text>
<text transform="translate(1349.96,595.50) scale(0.9223,1)" font-size="30" stroke="#000" stroke-width="0.3">NbRe</text>
<text transform="translate(1276.89,640.10) scale(0.9300,1)" font-size="30" stroke="#000" stroke-width="0.3">Si</text>
<text transform="translate(1307.23,640.10) scale(1.0968,1)" font-size="30" stroke="#000" stroke-width="0.3">/</text>
<text transform="translate(1319.66,640.10) scale(0.9223,1)" font-size="30" stroke="#000" stroke-width="0.3">NbRe</text>
<text transform="translate(1251.83,460.50) scale(0.9834,1)" font-size="30.5" stroke="#000" stroke-width="0.3">t = 10 nm</text>
</svg>
</body></html>
